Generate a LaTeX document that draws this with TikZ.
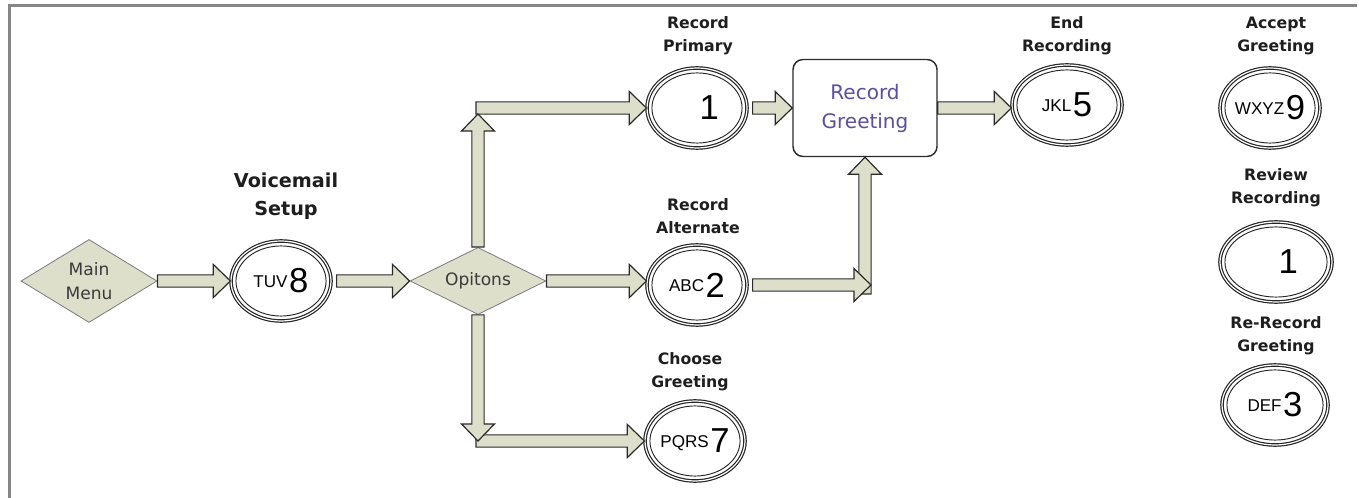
\documentclass[tikz,border=0pt]{standalone}
\usepackage{fontspec}
\setmainfont{DejaVu Sans}
\newfontfamily\keyfont{Liberation Sans}
\usetikzlibrary{positioning,calc,shapes.geometric}
\definecolor{framegrey}{HTML}{868686}
\definecolor{sage}{HTML}{DDDFCB}
\definecolor{arrowline}{HTML}{2B2B2B}
\definecolor{diamondline}{HTML}{7A7A7A}
\definecolor{keyline}{HTML}{262626}
\definecolor{greetblue}{HTML}{5A4F9D}
\definecolor{labeltext}{HTML}{1E1E1E}
\definecolor{menutext}{HTML}{3A3A3A}
% letters of a phone key, then its digit
\newcommand{\keycap}[2]{\raisebox{4pt}{\keyfont\fontsize{12.8}{14}\selectfont #1}%
  \kern1.2pt{\keyfont\fontsize{26}{26}\selectfont #2}}

\begin{document}
\begin{tikzpicture}[
  x=0.75pt, y=0.75pt,
  % a fat outlined arrow from \tikztostart to \tikztotarget
  blk/.style={draw=arrowline, fill=sage, line width=0.9pt, line join=miter,
    to path={
      ($(\tikztostart)!4.6pt!90:(\tikztotarget)$)
      -- ($($(\tikztotarget)!12.8pt!(\tikztostart)$)!4.6pt!90:(\tikztotarget)$)
      -- ($($(\tikztotarget)!12.8pt!(\tikztostart)$)!12.4pt!90:(\tikztotarget)$)
      -- (\tikztotarget)
      -- ($($(\tikztotarget)!12.8pt!(\tikztostart)$)!12.4pt!-90:(\tikztotarget)$)
      -- ($($(\tikztotarget)!12.8pt!(\tikztostart)$)!4.6pt!-90:(\tikztotarget)$)
      -- ($(\tikztostart)!4.6pt!-90:(\tikztotarget)$) -- cycle}},
  menu/.style={diamond, draw=diamondline, fill=sage, line width=0.6pt,
               inner sep=0pt, text=menutext, align=center,
               font=\fontsize{12.8}{18}\selectfont},
  % phone key: a doubled ring with a thin ring inside it
  key/.style={ellipse, draw=keyline, line width=0.9pt, double=white,
              double distance=0.9pt, minimum width=0.75pt*#1,
              minimum height=60pt, inner sep=0pt,
              path picture={\draw[keyline, line width=0.7pt]
                let \p1=($(path picture bounding box.north east)
                          -(path picture bounding box.center)$)
                in (path picture bounding box.center)
                   ellipse [x radius=\x1-3.7pt, y radius=\y1-3.7pt];}},
  key/.default=100,
  tag/.style={font=\bfseries\fontsize{11.8}{17.3}\selectfont,
              text=labeltext, align=center, inner sep=0pt},
  stage/.style={draw=arrowline, rounded corners=7.5pt, line width=1.1pt,
                minimum width=108pt, minimum height=72.75pt, text=greetblue,
                align=center, font=\fontsize{15}{21.75}\selectfont}
]
\useasboundingbox (0,0) rectangle (1359,-498);

% frame
\draw[framegrey, line width=2.25pt] (9.5,-498) -- (9.5,-6) -- (1357,-6);

% main path
\node[menu, minimum width=102pt, minimum height=62.25pt, aspect=1.64]
  (mm) at (89,-281) {Main\\Menu};
\node[key] (tuv) at (281,-281) {\keycap{TUV}{8}};
\node[tag, font=\bfseries\fontsize{14.4}{21}\selectfont] (lbltuv) at (286,-196)
  {Voicemail\\Setup};
\node[menu, minimum width=102pt, minimum height=50.25pt, aspect=2.03]
  (opt) at (478,-281) {Opitons};

% options
\node[key] (one) at (697,-108) {\keycap{\hphantom{AB}}{1}};
\node[tag] (lblone) at (698,-36) {Record\\Primary};
\node[key] (abc) at (697,-285) {\keycap{ABC}{2}};
\node[tag] (lblabc) at (698,-216) {Record\\Alternate};
\node[key] (pqrs) at (695,-441) {\keycap{PQRS}{7}};
\node[tag] (lblpqrs) at (690,-372) {Choose\\Greeting};

\node[stage] (rg) at (865,-108) {Record\\Greeting};
\node[key=110] (jkl) at (1067,-105) {\keycap{JKL}{5}};
\node[tag] (lbljkl) at (1067,-36) {End\\Recording};

% keys after recording
\node[key] (wxyz) at (1270,-108) {\keycap{WXYZ}{9}};
\node[tag] (lblwxyz) at (1276,-36) {Accept\\Greeting};
\node[key=112] (rev) at (1276,-262) {\keycap{\hphantom{AB}}{1}};
\node[tag] (lblrev) at (1276,-188) {Review\\Recording};
\node[key=106] (def) at (1275,-405) {\keycap{DEF}{3}};
\node[tag] (lbldef) at (1276,-336) {Re-Record\\Greeting};

% turning points
\coordinate (uptop) at (opt.north |- one.west);
\coordinate (downbot) at (opt.south |- pqrs.west);
\coordinate (join) at (rg.south |- abc.east);

% arrows
\draw[blk] (mm.east) to (tuv.west);
\draw[blk] ($(tuv.east)+(5,0)$) to (opt.west);
\draw[blk] ($(uptop)+(-2,0)$) to (one.west);
\draw[blk] (opt.north) to ($(uptop)+(0,-6)$);
\draw[blk] (opt.east) to (opt.east -| abc.west);
\draw[blk] ($(downbot)+(-2,0)$) to (pqrs.west);
\draw[blk] (opt.south) to (downbot);
\draw[blk] ($(one.east)+(5,0)$) to (rg.west);
\draw[blk] (rg.east) to (rg.east -| jkl.west);
\draw[blk] ($(join)+(0,-9)$) to (rg.south);
\draw[blk] ($(abc.east)+(5,0)$) to ($(join)+(6,0)$);

\end{tikzpicture}
\end{document}
